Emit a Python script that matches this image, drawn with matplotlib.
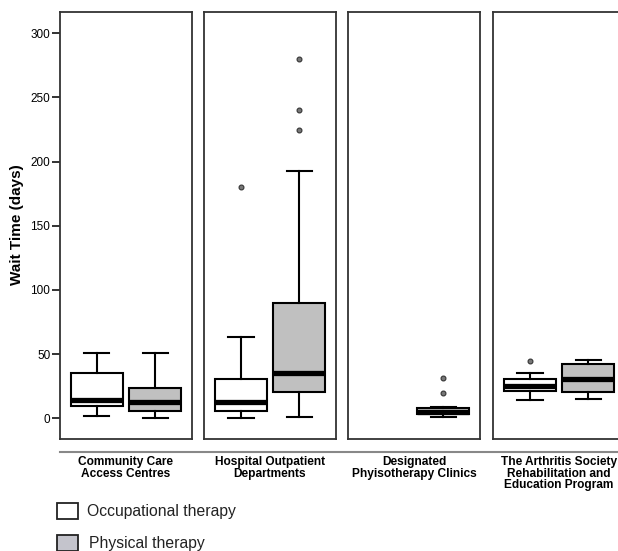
import matplotlib
matplotlib.use("Agg")
import matplotlib.pyplot as plt
from matplotlib.patches import Rectangle

categories = ["Community Care\nAccess Centres",
              "Hospital Outpatient\nDepartments",
              "Designated\nPhyisotherapy Clinics",
              "The Arthritis Society\nRehabilitation and\nEducation Program"]
series = ["Occupational therapy", "Physical therapy"]

# per category: [OT, PT]; None = no data
ot_stats = dict(
    whislo=[2, 0, None, 14],
    q1=[9.5, 5.5, None, 21.5],
    med=[14, 12.5, None, 25],
    q3=[35, 30.5, None, 30.5],
    whishi=[51, 63, None, 35.5],
    fliers=[[], [180], None, [45]],
)
pt_stats = dict(
    whislo=[0, 1.3, 1, 15],
    q1=[6, 20.3, 3, 20.3],
    med=[12.7, 35, 5, 30.5],
    q3=[24, 90, 7.8, 42],
    whishi=[51, 193, 9, 45.5],
    fliers=[[], [225, 240, 280], [20, 31.5], []],
)
yticks = [0, 50, 100, 150, 200, 250, 300]

W, H, DPI = 618, 551, 100
fig = plt.figure(figsize=(W / DPI, H / DPI), dpi=DPI)
plt.rcParams['font.family'] = ['Liberation Sans', 'DejaVu Sans']

panel_left = [60, 204, 348, 493]
panel_w = 132
top_px, bot_px = 12, 439
y0_px, y300_px = 418.3, 33.3
ppu = (y0_px - y300_px) / 300
ymin = -(bot_px - y0_px) / ppu
ymax = 300 + (y300_px - top_px) / ppu

fills = ["white", "#c0c0c0"]
positions = [0.28, 0.72]

narrow = ['Liberation Sans Narrow', 'Liberation Sans', 'DejaVu Sans']

for i, cat in enumerate(categories):
    ax = fig.add_axes([panel_left[i] / W, 1 - bot_px / H, panel_w / W, (bot_px - top_px) / H])
    for j, st in enumerate([ot_stats, pt_stats]):
        if st['med'][i] is None:
            continue
        s = dict(whislo=st['whislo'][i], q1=st['q1'][i], med=st['med'][i],
                 q3=st['q3'][i], whishi=st['whishi'][i], fliers=st['fliers'][i])
        ax.bxp([s], positions=[positions[j]], widths=0.39, patch_artist=True,
               showfliers=True, capwidths=0.19,
               boxprops=dict(facecolor=fills[j], edgecolor='black', linewidth=1.5),
               medianprops=dict(color='black', linewidth=3.8, solid_capstyle='butt'),
               whiskerprops=dict(color='black', linewidth=1.5),
               capprops=dict(color='black', linewidth=1.5),
               flierprops=dict(marker='o', markersize=3.5, markerfacecolor='#777777',
                               markeredgecolor='#333333', markeredgewidth=0.8))
    ax.set_xlim(0, 1)
    ax.set_ylim(ymin, ymax)
    ax.set_xticks([])
    for sp in ax.spines.values():
        sp.set_color('#333333')
        sp.set_linewidth(1.3)
    if i == 0:
        ax.set_yticks(yticks)
        ax.set_yticklabels([str(t) for t in yticks])
        ax.tick_params(axis='y', direction='out', length=6, width=1.3, color='#222222',
                       labelsize=8.5, pad=1)
    else:
        ax.set_yticks([])
    cx = (panel_left[i] + panel_w / 2) / W
    fig.text(cx, 1 - 456 / H, cat, ha='center', va='top', fontsize=8.6,
             fontweight='bold', family=narrow, linespacing=0.95)

fig.text(17 / W, 1 - 225 / H, "Wait Time (days)", rotation=90, ha='center', va='center',
         fontsize=11, fontweight='bold')

# separator line under panels
fig.add_artist(plt.Line2D([60 / W, 1.0], [1 - 452 / H, 1 - 452 / H], color='#888888',
                          linewidth=1.5))

# legend
for k, (lab, fc, ytop, tx) in enumerate(zip(series, ["white", "#c4c4cc"], [503, 535], [87, 89])):
    fig.add_artist(Rectangle((57 / W, 1 - (ytop + 16) / H), 21 / W, 16 / H,
                             facecolor=fc, edgecolor='#222222', linewidth=1.3,
                             transform=fig.transFigure))
    fig.text(tx / W, 1 - (ytop + 8.5) / H, lab, ha='left', va='center', fontsize=11.3,
             color='#222222')

fig.savefig("out.png", dpi=DPI)
